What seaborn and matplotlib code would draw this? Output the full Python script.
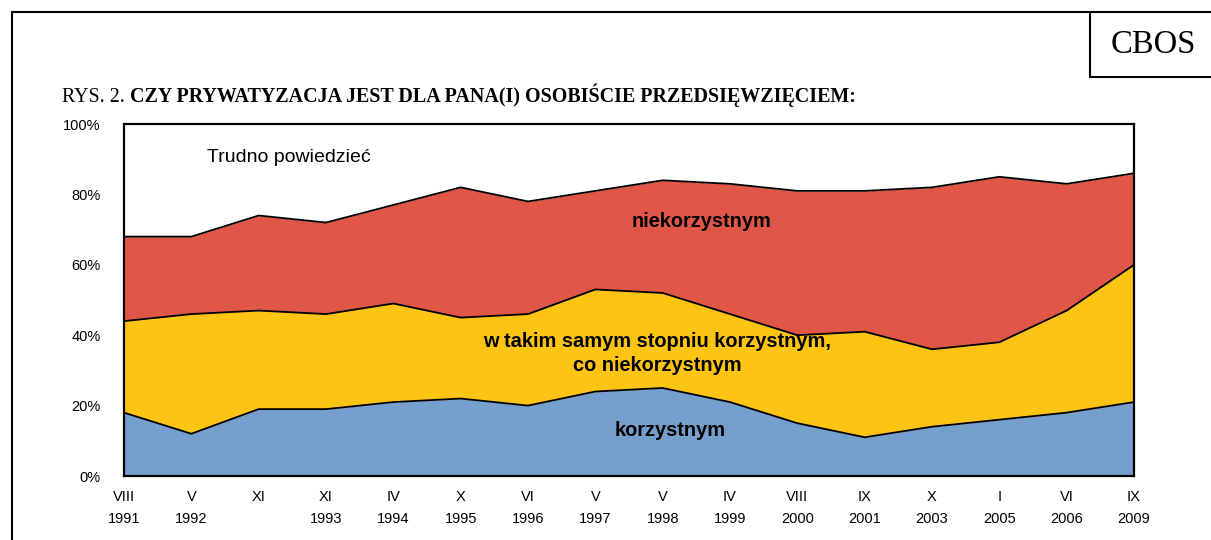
import numpy as np
import pandas as pd
import seaborn as sns
import matplotlib.pyplot as plt
from matplotlib.lines import Line2D


################################################################################

MONTHS = ["VIII", "V", "XI", "XI", "IV", "X", "VI", "V", "V", "IV",
          "VIII", "IX", "X", "I", "VI", "IX"]
YEARS = ["1991", "1992", "", "1993", "1994", "1995", "1996", "1997", "1998",
         "1999", "2000", "2001", "2003", "2005", "2006", "2009"]

korzystnym = [18, 12, 19, 19, 21, 22, 20, 24, 25, 21, 15, 11, 14, 16, 18, 21]
taki_sam = [26, 34, 28, 27, 28, 23, 26, 29, 27, 25, 25, 30, 22, 22, 29, 39]
niekorzystnym = [24, 22, 27, 26, 28, 37, 32, 28, 32, 37, 41, 40, 46, 47, 36, 26]
trudno = [32, 32, 26, 28, 23, 18, 22, 19, 16, 17, 19, 19, 18, 15, 17, 14]

Y_TICKS = [0, 20, 40, 60, 80, 100]

BLUE = "#759fcd"
YELLOW = "#fdc414"
RED = "#e05647"

TITLE_A = "RYS. 2. "
TITLE_B = "CZY PRYWATYZACJA JEST DLA PANA(I) OSOBIŚCIE PRZEDSIĘWZIĘCIEM:"


def plotAreas(ax):
  x = np.arange(len(MONTHS))
  df = pd.DataFrame({"x": x,
                     "k": korzystnym,
                     "t": taki_sam,
                     "n": niekorzystnym,
                     "d": trudno})
  df["c1"] = df["k"]
  df["c2"] = df["c1"] + df["t"]
  df["c3"] = df["c2"] + df["n"]
  df["c4"] = df["c3"] + df["d"]

  ax.fill_between(df["x"], 0, df["c1"], color=BLUE, lw=0)
  ax.fill_between(df["x"], df["c1"], df["c2"], color=YELLOW, lw=0)
  ax.fill_between(df["x"], df["c2"], df["c3"], color=RED, lw=0)
  ax.fill_between(df["x"], df["c3"], df["c4"], color="white", lw=0)
  for col in ["c1", "c2", "c3"]:
    sns.lineplot(data=df, x="x", y=col, ax=ax, color="black", lw=1.3,
                 legend=False)

  ax.set_xlim(0, len(MONTHS) - 1)
  ax.set_ylim(0, 100)
  ax.set_xticks(x)
  ax.set_xticklabels([m + "\n" + y for m, y in zip(MONTHS, YEARS)],
                     fontsize=10.5, va="top", linespacing=1.7)
  ax.set_yticks(Y_TICKS)
  ax.set_yticklabels([str(v) + "%" for v in Y_TICKS], fontsize=10.5)
  ax.tick_params(axis="x", length=0, pad=10, colors="black")
  ax.tick_params(axis="y", length=0, pad=17, colors="black")
  ax.set_xlabel("")
  ax.set_ylabel("")
  for s in ax.spines.values():
    s.set_visible(True)
    s.set_color("black")
    s.set_linewidth(1.6)

  ax.text(1.23, 90.6, "Trudno powiedzieć", fontsize=14, va="center",
          ha="left")
  ax.text(8.58, 72.4, "niekorzystnym", fontsize=14.4, weight="bold",
          ha="center", va="center")
  ax.text(7.92, 34.7, "w takim samym stopniu korzystnym,\nco niekorzystnym",
          fontsize=14.4, weight="bold", ha="center", va="center",
          linespacing=1.35)
  ax.text(8.11, 12.8, "korzystnym", fontsize=14.4, weight="bold",
          ha="center", va="center")


def main():
  sns.set_style("white")
  plt.rcParams["font.family"] = ["Liberation Sans", "DejaVu Sans"]
  plt.rcParams["text.color"] = "black"

  fig = plt.figure(figsize=(12.11, 5.40), dpi=100)
  ax = fig.add_axes([124 / 1211, 1 - 476 / 540, (1134 - 124) / 1211,
                     (476 - 124) / 540])
  plotAreas(ax)

  # outer frame and CBOS box
  fy = 1 - 12 / 540
  by = 1 - 77 / 540
  bx = 1090 / 1211
  for xs, ys in [([12 / 1211, 1], [fy, fy]),
                 ([12 / 1211, 12 / 1211], [fy, 0]),
                 ([bx, bx], [fy, by]),
                 ([bx, 1], [by, by])]:
    fig.add_artist(Line2D(xs, ys, transform=fig.transFigure, color="black",
                          lw=1.5))
  fig.text((bx + 1) / 2 + 0.002, (fy + by) / 2, "CBOS", ha="center",
           va="center", fontsize=23.5, family="Liberation Serif")

  t1 = fig.text(62 / 1211, 1 - 102 / 540, TITLE_A, fontsize=14.4,
                family="Liberation Serif", va="baseline")
  fig.canvas.draw()
  bb = t1.get_window_extent()
  fig.text(bb.x1 / fig.bbox.width, 1 - 102 / 540, TITLE_B, fontsize=14.4,
           family="Liberation Serif", weight="bold", va="baseline")

  fig.savefig("out.png", dpi=100)

main()
